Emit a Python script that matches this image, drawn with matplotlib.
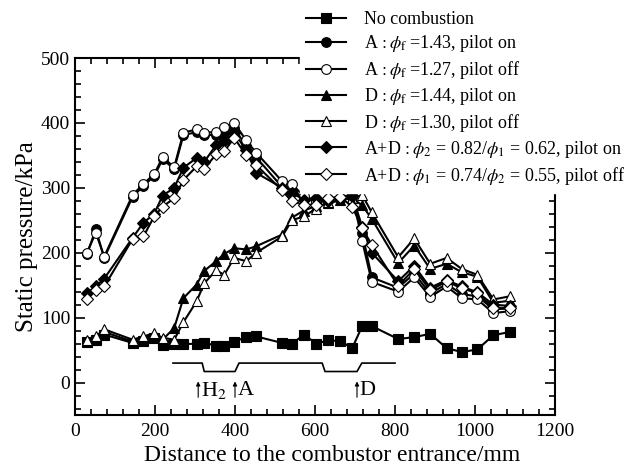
import matplotlib
matplotlib.use('Agg')
import matplotlib.pyplot as plt
from matplotlib.ticker import MultipleLocator

# pressure tap positions (mm from combustor entrance)
x_taps = [30, 52, 73, 144, 171, 198, 219, 248, 271, 304, 323, 353, 373, 398, 428, 453,
          518, 542, 572, 603, 633, 663, 693, 718, 742, 808, 848, 888, 929, 967, 1006, 1046, 1088]

# static pressure, kPa
p_no_comb = [63, 66, 74, 61, 64, 68, 58, 60, 59, 60, 61, 57, 56, 63, 70, 71,
             61, 59, 74, 60, 65, 64, 53, 87, 87, 67, 70, 75, 53, 47, 51, 73, 78]
p_a_on = [198, 236, 192, 286, 303, 318, 344, 329, 381, 386, 381, 382, 384, 392, 364, 347,
          301, 294, 285, 278, 281, 283, 286, 230, 162, 146, 168, 137, 152, 136, 133, 113, 114]
p_a_off = [200, 231, 194, 289, 306, 321, 347, 332, 385, 390, 385, 386, 394, 400, 373, 354,
           310, 306, 287, 280, 283, 285, 290, 218, 155, 140, 162, 132, 148, 130, 128, 107, 110]
p_d_on = [64, 69, 78, 63, 68, 73, 66, 84, 130, 151, 172, 187, 198, 207, 205, 210,
          228, 254, 265, 272, 276, 281, 284, 273, 252, 184, 211, 175, 183, 170, 163, 123, 126]
p_d_off = [66, 71, 82, 66, 71, 76, 69, 66, 93, 125, 153, 173, 166, 192, 187, 200,
           225, 250, 256, 268, 278, 290, 284, 289, 262, 193, 222, 183, 192, 175, 166, 128, 133]
p_ad_on = [138, 148, 160, 223, 246, 260, 288, 300, 331, 346, 340, 366, 372, 385, 358, 323,
           300, 292, 282, 284, 280, 284, 288, 240, 200, 156, 180, 146, 158, 148, 139, 120, 118]
p_ad_off = [129, 143, 148, 221, 225, 256, 271, 284, 312, 333, 329, 352, 356, 377, 350, 335,
            296, 279, 274, 274, 284, 286, 271, 238, 212, 149, 175, 142, 156, 145, 138, 115, 115]

labels = ['No combustion',
          r'A$\,:\phi_{\rm f}\;$=1.43, pilot on',
          r'A$\,:\phi_{\rm f}\;$=1.27, pilot off',
          r'D$\,:\phi_{\rm f}\;$=1.44, pilot on',
          r'D$\,:\phi_{\rm f}\;$=1.30, pilot off',
          r'A+D$\,:\phi_2$ = 0.82/$\phi_1$ = 0.62, pilot on',
          r'A+D$\,:\phi_1$ = 0.74/$\phi_2$ = 0.55, pilot off']

# injector layout sketch (H2 / A / D)
inj_x = [245, 318, 323, 400, 410, 618, 625, 705, 717, 800]
inj_y = [30, 30, 17, 17, 30, 30, 17, 17, 30, 30]
inj_names = [r'H$_2$', 'A', 'D']
inj_pos = [308, 400, 705]

plt.rcParams['font.family'] = 'serif'
plt.rcParams['font.serif'] = ['Liberation Serif', 'DejaVu Serif']
plt.rcParams['mathtext.fontset'] = 'stix'

fig = plt.figure(figsize=(6.3, 4.65), dpi=100)
ax = fig.add_axes([75 / 630, 1 - 415 / 465, 480 / 630, 357 / 465])

series = [p_no_comb, p_a_on, p_a_off, p_d_on, p_d_off, p_ad_on, p_ad_off]
markers = ['s', 'o', 'o', '^', '^', 'D', 'D']
faces = ['black', 'black', 'white', 'black', 'white', 'black', 'white']
sizes = [6.5, 7, 7, 7.5, 7.5, 6, 6]
for p, m, fc, ms, lab in zip(series, markers, faces, sizes, labels):
    ax.plot(x_taps, p, color='black', lw=1.5, marker=m, ms=ms, mfc=fc,
            mec='black', mew=0.8, label=lab)

ax.plot(inj_x, inj_y, color='black', lw=1.2)
for name, xp in zip(inj_names, inj_pos):
    ax.annotate('', xy=(xp, 6), xytext=(xp, -27),
                arrowprops=dict(arrowstyle='-|>', lw=0.8, color='black', mutation_scale=6))
    ax.text(xp + 6, -12, name, fontsize=16, va='center', ha='left')

ax.set_xlim(0, 1200)
ax.set_ylim(-50, 500)
ax.xaxis.set_major_locator(MultipleLocator(200))
ax.xaxis.set_minor_locator(MultipleLocator(40))
ax.yaxis.set_major_locator(MultipleLocator(100))
ax.yaxis.set_minor_locator(MultipleLocator(20))
ax.tick_params(which='both', direction='in', top=True, right=True, width=1.2, labelsize=14)
ax.tick_params(which='major', length=7)
ax.tick_params(which='minor', length=4)
ax.tick_params(axis='x', pad=6)
for s in ax.spines.values():
    s.set_linewidth(1.5)
ax.set_xlabel('Distance to the combustor entrance/mm', fontsize=17)
ax.xaxis.set_label_coords(0.535, -0.085)
ax.set_ylabel('Static pressure/kPa', fontsize=18, labelpad=2)

h, l = ax.get_legend_handles_labels()
leg = fig.legend(h, l, loc='upper left', bbox_to_anchor=(300 / 630, 1 - 5 / 465), fontsize=13,
                 frameon=True, facecolor='white', edgecolor='white', framealpha=1,
                 fancybox=False, handlelength=2.2, handletextpad=1.0, labelspacing=0.27,
                 borderpad=0.35, borderaxespad=0)

fig.savefig('out.png', dpi=100)
